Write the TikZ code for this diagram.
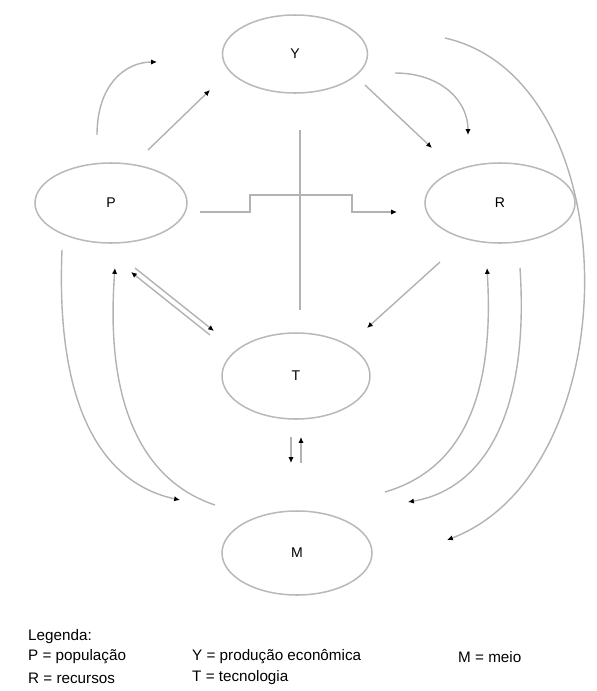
\documentclass[tikz,border=0pt]{standalone}
\usepackage{fontspec}
\setmainfont{Liberation Sans}
\usetikzlibrary{shapes.geometric}
\usetikzlibrary{arrows.meta}

\tikzset{
  estado/.style={draw=gray!55, line width=1.3pt, ellipse, inner sep=0pt,
    minimum width=4.5cm, minimum height=2.4cm, font=\fontsize{12}{15}\selectfont},
  liga/.style={draw=gray!60, line width=1.2pt},
  seta/.style={liga, -{Latex[length=5pt,width=4.5pt,color=black]}},
  legenda/.style={anchor=west, inner sep=0pt, font=\fontsize{13}{16}\selectfont},
}

\begin{document}
\begin{tikzpicture}[x=0.03cm, y=-0.03cm]
  \useasboundingbox (0,0) rectangle (597,691);

  % Estados
  \node[estado, minimum width=4.35cm, minimum height=2.34cm] (Y) at (295,54) {Y};
  \node[estado, minimum width=4.56cm] (P) at (111,203) {P};
  \node[estado] (R) at (500,203) {R};
  \node[estado, minimum width=4.44cm, minimum height=2.58cm] (T) at (296,376) {T};
  \node[estado, minimum height=2.52cm] (M) at (297,553) {M};

  % Ligacoes de cima
  \draw[seta] ([shift={(-14,-68)}]P.center) .. controls +(0,-50) and +(-32,0) .. ([shift={(-138,8)}]Y.center);
  \draw[seta] ([shift={(37,-53)}]P.center) -- ([shift={(-85,36)}]Y.center);
  \draw[seta] ([shift={(70,31)}]Y.center) -- ([shift={(-68,-55)}]R.center);
  \draw[seta] ([shift={(100,19)}]Y.center) .. controls +(45,0) and +(0,-35) .. ([shift={(-32,-68)}]R.center);
  \draw[seta] ([shift={(150,-16)}]Y.center) .. controls +(185,42) and +(183,-70) .. ([shift={(150,-13)}]M.center);

  % Cruz do meio
  \draw[liga] ([shift={(5,76)}]Y.center) -- ([shift={(4,-66)}]T.center);
  \draw[seta] ([shift={(89,9)}]P.center) -- ++(50,0) -- ++(0,-17) -- ++(102,0) -- ++(0,17)
    -- ([shift={(-103,9)}]R.center);

  % Ligacoes com T
  \draw[seta] ([shift={(-60,59)}]R.center) -- ([shift={(71,-48)}]T.center);
  \draw[seta] ([shift={(24,65)}]P.center) -- ([shift={(-82,-45)}]T.center);
  \draw[seta] ([shift={(-86,-41)}]T.center) -- ([shift={(20,69)}]P.center);
  \draw[seta] ([shift={(-5,61)}]T.center) -- ([shift={(-6,-90)}]M.center);
  \draw[seta] ([shift={(4,-90)}]M.center) -- ([shift={(5,61)}]T.center);

  % Ligacoes com M
  \draw[seta] ([shift={(-49,47)}]P.center) .. controls +(-7,170) and +(-70,-15) .. ([shift={(-117,-53)}]M.center);
  \draw[seta] ([shift={(-82,-48)}]M.center) .. controls +(-75,-25) and +(-10,132) .. ([shift={(4,65)}]P.center);
  \draw[seta] ([shift={(20,65)}]R.center) .. controls +(10,152) and +(72,-12) .. ([shift={(111,-51)}]M.center);
  \draw[seta] ([shift={(88,-61)}]M.center) .. controls +(75,-22) and +(8,132) .. ([shift={(-13,65)}]R.center);

  % Legenda
  \node[legenda] (leg) at (28,637) {Legenda:};
  \node[legenda] (lP) at (28,657) {P = população};
  \node[legenda] (lR) at (28,678) {R = recursos};
  \node[legenda] (lY) at (192,657) {Y = produção econômica};
  \node[legenda] (lT) at (192,678) {T = tecnologia};
  \node[legenda] (lM) at (458,657) {M = meio};
\end{tikzpicture}
\end{document}
